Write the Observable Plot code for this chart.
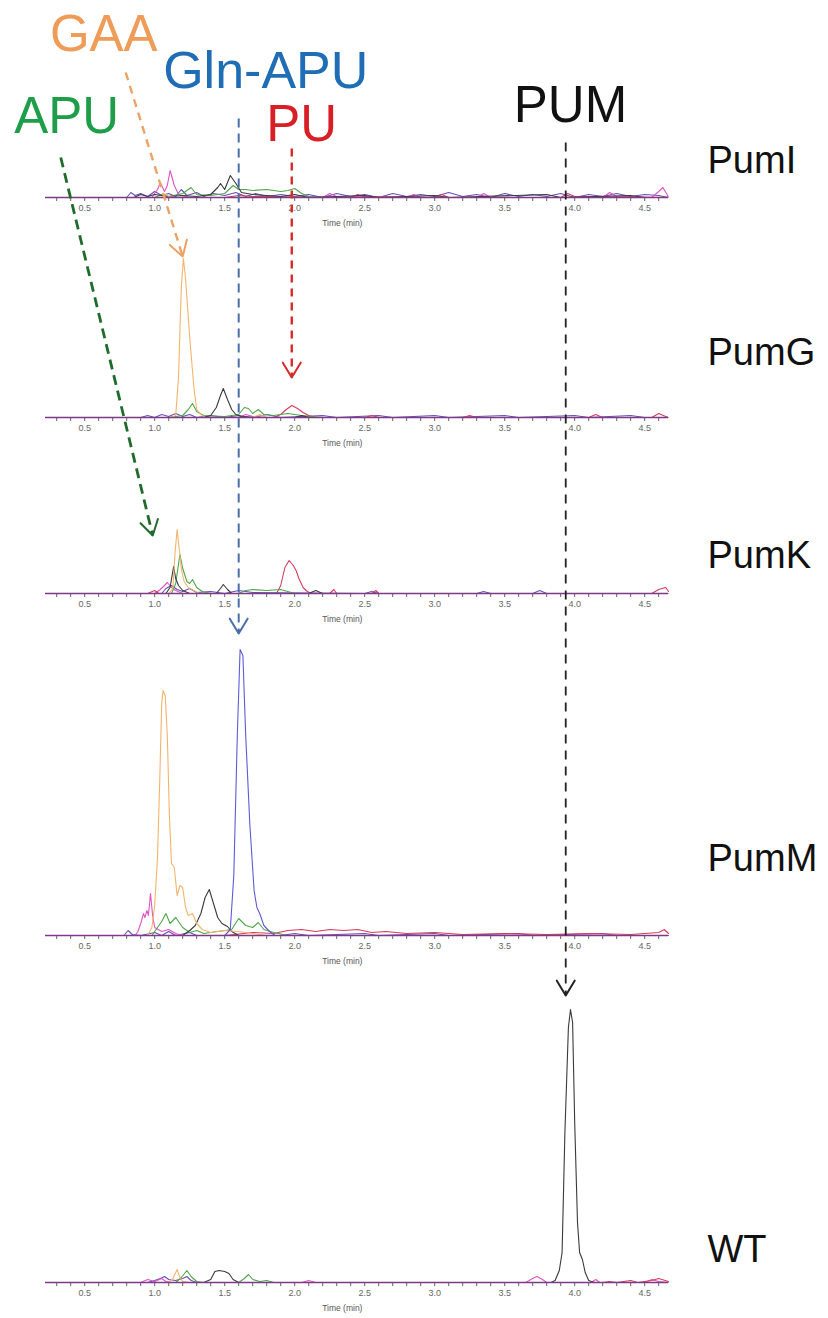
<!DOCTYPE html>
<html><head><meta charset="utf-8">
<script src="https://cdn.jsdelivr.net/npm/d3@7"></script>
<script src="https://cdn.jsdelivr.net/npm/@observablehq/plot@0.6"></script>
<style>
html,body{margin:0;padding:0;background:#fff;}
#fig{position:relative;width:828px;height:1318px;overflow:hidden;background:#fff;}
#fig > svg{position:absolute;left:0;}
</style></head><body><div id="fig"></div>
<script>
// ---------- axis ----------
const timeDomain = [0.22, 4.67];
const minorTicks = d3.range(3, 47).map(i => i / 10);
const labelTicks = [0.5, 1.0, 1.5, 2.0, 2.5, 3.0, 3.5, 4.0, 4.5];
const panelNames = ["PumI", "PumG", "PumK", "PumM", "WT"];

// ---------- traces: [time (min), relative intensity] ----------
// PumI
const pumI_purple = [[0.22,0],[0.8,0],[0.83,5],[0.86,2],[0.9,4],[0.95,1],[1.0,6],[1.05,2],[1.1,4],[1.15,1],[1.19,8],[1.23,2],[1.3,5],[1.35,1],[1.42,4],[1.5,2],[1.58,5],[1.65,1],[1.72,4],[1.8,1],[1.9,3],[2.0,1],[2.1,3],[2.2,0],[2.3,4],[2.4,1],[2.5,3],[2.6,0],[2.7,4],[2.8,1],[2.9,3],[3.0,1],[3.1,5],[3.2,1],[3.3,3],[3.4,0],[3.5,4],[3.6,1],[3.7,3],[3.8,1],[3.9,4],[4.0,0],[4.1,3],[4.2,1],[4.3,4],[4.4,1],[4.5,3],[4.6,2],[4.67,0]];
const pumI_magenta = [[0.22,0],[0.98,0],[1.02,8],[1.04,15],[1.07,6],[1.09,12],[1.11,27],[1.14,12],[1.17,3],[1.25,0],[2.2,0],[2.25,4],[2.3,1],[2.8,0],[2.85,3],[2.9,0],[3.3,0],[3.35,4],[3.4,0],[4.2,0],[4.25,5],[4.3,1],[4.55,0],[4.6,6],[4.63,10],[4.66,3],[4.67,0]];
const pumI_red = [[0.22,0],[1.5,0],[1.6,2],[1.7,1],[2.4,0],[2.45,3],[2.5,1],[3.0,0],[3.05,3],[3.1,0],[3.9,0],[3.95,4],[4.0,1],[4.67,0]];
const pumI_green = [[0.22,0],[1.0,0],[1.05,3],[1.1,1],[1.2,4],[1.26,10],[1.3,3],[1.4,2],[1.5,4],[1.56,12],[1.6,8],[1.65,8],[1.7,7],[1.8,8],[1.9,6],[1.95,7],[2.0,9],[2.05,4],[2.1,1],[2.2,0],[4.67,0]];
const pumI_black = [[0.22,0],[0.85,0],[0.9,3],[0.95,1],[1.0,3],[1.1,1],[1.2,2],[1.3,1],[1.4,3],[1.45,10],[1.47,14],[1.5,8],[1.54,22],[1.58,14],[1.62,5],[1.7,3],[1.8,2],[1.9,1],[2.0,3],[2.1,0],[2.5,2],[2.6,0],[3.0,2],[3.1,0],[3.8,3],[3.9,0],[4.4,2],[4.5,0],[4.67,0]];
const pumI_orange = [[0.22,0],[1.05,0],[1.08,3],[1.1,1],[1.15,0],[4.67,0]];
// PumG
const pumG_purple = [[0.22,0],[0.9,0],[0.95,2],[1.0,0],[1.05,3],[1.1,1],[1.15,4],[1.2,1],[1.25,3],[1.3,0],[1.4,2],[1.5,0],[1.6,2],[1.7,0],[1.8,3],[1.9,0],[2.2,2],[2.3,0],[2.6,2],[2.7,0],[3.0,2],[3.1,0],[3.5,2],[3.6,0],[4.0,2],[4.1,0],[4.4,2],[4.5,0],[4.67,0]];
const pumG_magenta = [[0.22,0],[1.6,0],[1.65,3],[1.7,1],[1.8,0],[4.67,0]];
const pumG_red = [[0.22,0],[1.85,0],[1.9,3],[1.94,8],[1.98,12],[2.02,9],[2.06,5],[2.1,2],[2.15,0],[2.5,0],[2.55,2],[2.6,0],[3.2,0],[3.25,2],[3.3,0],[4.1,0],[4.15,3],[4.2,0],[4.55,0],[4.6,4],[4.65,1],[4.67,0]];
const pumG_green = [[0.22,0],[1.1,0],[1.2,2],[1.24,8],[1.27,14],[1.3,6],[1.35,2],[1.5,1],[1.6,3],[1.64,10],[1.67,9],[1.7,4],[1.74,8],[1.78,3],[1.85,2],[1.95,4],[2.05,2],[2.2,0],[4.67,0]];
const pumG_black = [[0.22,0],[1.35,0],[1.4,2],[1.44,10],[1.47,22],[1.49,29],[1.52,18],[1.55,8],[1.58,3],[1.62,1],[1.7,0],[2.0,0],[2.05,2],[2.1,0],[4.67,0]];
const pumG_orange = [[0.22,0],[1.12,0],[1.15,2],[1.17,40],[1.19,130],[1.205,159],[1.22,140],[1.25,80],[1.28,30],[1.3,8],[1.33,3],[1.36,0],[1.7,0],[1.75,3],[1.8,0],[4.67,0]];
// PumK
const pumK_purple = [[0.22,0],[1.05,0],[1.08,5],[1.12,8],[1.16,4],[1.2,2],[1.25,5],[1.3,1],[1.4,2],[1.5,0],[1.6,3],[1.7,1],[2.5,0],[2.55,2],[2.6,0],[3.3,0],[3.35,2],[3.4,0],[3.7,0],[3.75,3],[3.8,0],[4.67,0]];
const pumK_magenta = [[0.22,0],[1.0,0],[1.04,4],[1.07,8],[1.09,11],[1.12,6],[1.15,3],[1.2,0],[4.67,0]];
const pumK_red = [[0.22,0],[0.95,0],[1.0,3],[1.03,0],[1.87,0],[1.9,8],[1.93,26],[1.96,33],[1.99,28],[2.01,23],[2.03,15],[2.06,6],[2.09,2],[2.12,0],[2.25,0],[2.28,4],[2.3,0],[2.55,0],[2.58,3],[2.6,0],[4.55,0],[4.6,4],[4.65,6],[4.67,2]];
const pumK_green = [[0.22,0],[1.12,0],[1.15,10],[1.18,39],[1.2,25],[1.23,12],[1.25,10],[1.27,14],[1.3,6],[1.34,2],[1.4,0],[1.6,0],[1.65,3],[1.7,4],[1.8,3],[1.9,4],[1.95,2],[2.0,0],[4.67,0]];
const pumK_black = [[0.22,0],[1.08,0],[1.11,6],[1.135,27],[1.15,15],[1.17,8],[1.2,3],[1.25,0],[1.44,0],[1.47,5],[1.49,9],[1.52,4],[1.55,0],[2.1,0],[2.15,3],[2.2,0],[4.67,0]];
const pumK_orange = [[0.22,0],[1.1,0],[1.13,5],[1.145,40],[1.16,64],[1.175,45],[1.19,25],[1.21,12],[1.24,6],[1.28,3],[1.32,0],[4.67,0]];
// PumM
const pumM_purple = [[0.22,0],[0.78,0],[0.81,5],[0.84,1],[0.9,0],[1.0,3],[1.05,0],[1.1,4],[1.15,0],[1.25,3],[1.3,0],[1.9,0],[2.0,2],[2.1,0],[2.5,2],[2.6,0],[3.0,2],[3.1,0],[3.6,2],[3.7,0],[4.2,2],[4.3,0],[4.67,0]];
const pumM_magenta = [[0.22,0],[0.86,0],[0.88,4],[0.9,12],[0.92,22],[0.93,18],[0.945,25],[0.955,20],[0.97,42],[0.985,20],[1.0,8],[1.05,4],[1.1,6],[1.15,2],[1.2,0],[4.67,0]];
const pumM_red = [[0.22,0],[1.5,0],[1.7,3],[1.85,2],[1.95,5],[2.05,6],[2.15,4],[2.25,6],[2.35,5],[2.45,6],[2.55,3],[2.65,4],[2.8,2],[3.0,3],[3.2,1],[3.5,2],[3.8,1],[4.1,2],[4.4,1],[4.6,3],[4.64,6],[4.67,2]];
const pumM_green = [[0.22,0],[0.98,0],[1.02,8],[1.05,14],[1.08,22],[1.11,12],[1.15,18],[1.2,8],[1.25,3],[1.3,5],[1.35,2],[1.45,4],[1.55,6],[1.6,17],[1.65,10],[1.7,8],[1.74,13],[1.78,6],[1.85,3],[1.95,0],[4.67,0]];
const pumM_black = [[0.22,0],[1.2,0],[1.25,5],[1.29,10],[1.33,22],[1.36,38],[1.39,46],[1.42,32],[1.45,18],[1.48,12],[1.52,9],[1.55,4],[1.6,0],[4.67,0]];
const pumM_orange = [[0.22,0],[0.95,0],[0.98,8],[1.0,30],[1.02,78],[1.035,150],[1.05,232],[1.06,245],[1.075,240],[1.09,200],[1.105,120],[1.12,72],[1.14,68],[1.16,40],[1.18,50],[1.2,48],[1.22,28],[1.24,20],[1.27,22],[1.3,12],[1.34,6],[1.4,3],[1.5,5],[1.6,4],[1.7,2],[1.8,0],[4.67,0]];
const pumM_blue = [[0.22,0],[1.5,0],[1.54,6],[1.565,60],[1.59,200],[1.61,286],[1.63,280],[1.65,200],[1.68,110],[1.71,45],[1.73,28],[1.75,22],[1.78,10],[1.82,4],[1.86,0],[4.67,0]];
// WT
const wt_purple = [[0.22,0],[0.95,0],[1.0,2],[1.04,4],[1.07,6],[1.1,3],[1.15,2],[1.2,4],[1.23,6],[1.26,2],[1.3,0],[4.67,0]];
const wt_magenta = [[0.22,0],[0.9,0],[0.95,3],[1.0,1],[1.05,4],[1.08,1],[1.12,0],[2.05,0],[2.1,2],[2.15,0],[3.65,0],[3.7,4],[3.73,6],[3.77,3],[3.8,0],[4.12,0],[4.15,3],[4.18,0],[4.5,0],[4.55,3],[4.6,1],[4.67,0]];
const wt_red = [[0.22,0],[4.2,0],[4.25,1],[4.3,0],[4.4,2],[4.45,0],[4.55,2],[4.6,4],[4.67,1]];
const wt_green = [[0.22,0],[1.15,0],[1.19,5],[1.23,12],[1.26,6],[1.3,1],[1.35,0],[1.6,0],[1.64,4],[1.67,8],[1.7,3],[1.75,1],[1.8,2],[1.85,0],[4.67,0]];
const wt_black = [[0.22,0],[1.35,0],[1.4,3],[1.43,11],[1.46,12],[1.5,11],[1.53,9],[1.56,3],[1.6,0],[3.83,0],[3.86,2],[3.89,12],[3.91,30],[3.93,150],[3.955,255],[3.97,273],[3.985,260],[4.0,160],[4.02,60],[4.035,30],[4.055,23],[4.075,10],[4.1,2],[4.14,0],[4.67,0]];
const wt_orange = [[0.22,0],[1.1,0],[1.13,4],[1.16,13],[1.18,5],[1.2,1],[1.25,0],[4.67,0]];

// ---------- annotations (compound labels and retention-time arrows) ----------
const compoundLabels = ["GAA", "Gln-APU", "APU", "PU", "PUM"];
const compoundTimes  = [0.636, 1.793, 0.371, 2.05, 3.97];

// ---------- styling / layout ----------
const colors = {purple:"#6a4fb6", magenta:"#e054c6", red:"#d63c5c", green:"#4fa64a", black:"#3a3a3a", orange:"#f4b46c", blue:"#5c5cd6"};
const drawOrder = ["purple","magenta","red","green","black","orange","blue"];
const FONT = "Liberation Sans, Arial, Helvetica, sans-serif";
const plotLeft = 45, plotRight = 668, W = 828, H = 1318;

const panelTraces = [
  {purple:pumI_purple, magenta:pumI_magenta, red:pumI_red, green:pumI_green, black:pumI_black, orange:pumI_orange},
  {purple:pumG_purple, magenta:pumG_magenta, red:pumG_red, green:pumG_green, black:pumG_black, orange:pumG_orange},
  {purple:pumK_purple, magenta:pumK_magenta, red:pumK_red, green:pumK_green, black:pumK_black, orange:pumK_orange},
  {purple:pumM_purple, magenta:pumM_magenta, red:pumM_red, green:pumM_green, black:pumM_black, orange:pumM_orange, blue:pumM_blue},
  {purple:wt_purple, magenta:wt_magenta, red:wt_red, green:wt_green, black:wt_black, orange:wt_orange}
];
const panelLayout = [
  {base:197, yMax:40,  labelY:37},
  {base:417, yMax:170, labelY:65},
  {base:593, yMax:80,  labelY:38},
  {base:935, yMax:295, labelY:77},
  {base:1282, yMax:285, labelY:33}
];
const labelLayout = [
  {y:34,  color:"#ee9c58", size:51},
  {y:71,  color:"#1f6db5", size:52},
  {y:116, color:"#1f9e4a", size:51},
  {y:124, color:"#d81f26", size:51},
  {y:105, color:"#111111", size:51}
];
// arrows: start/tip in time (x) and figure pixel row (y)
const arrowLayout = [
  {t1:0.793, y1:72,  t2:1.20,  y2:256, color:"#eba264", w:2.4, dash:"8,6"},
  {t1:1.60,  y1:118, t2:1.60,  y2:633, color:"#4a6fa8", w:2.0, dash:"9,6"},
  {t1:0.329, y1:157, t2:0.986, y2:535, color:"#1e6b2c", w:2.8, dash:"10,6"},
  {t1:1.979, y1:148, t2:1.979, y2:377, color:"#d62a2a", w:2.4, dash:"8,6"},
  {t1:3.936, y1:142, t2:3.936, y2:995, color:"#222222", w:1.8, dash:"9,7"}
];

const fig = document.getElementById("fig");
const tickFormat = d => (Math.round(d * 10) % 5 === 0) ? d.toFixed(1) : "";

panelNames.forEach((name, i) => {
  const L = panelLayout[i], T = panelTraces[i];
  const marks = drawOrder.filter(k => T[k]).map(k =>
    Plot.line(T[k], {x: d => d[0], y: d => d[1], stroke: colors[k], strokeWidth: 1.1}));
  marks.push(Plot.ruleY([0], {stroke: "#7d3a86", strokeWidth: 1.6}));
  marks.push(Plot.text([{t: 2.34, s: "Time (min)"}], {x: "t", text: "s", frameAnchor: "bottom", dy: 28, fontSize: 8.5, fill: "#555"}));
  marks.push(Plot.text([{s: name, v: L.labelY}], {y: "v", text: "s", frameAnchor: "right", dx: 39, textAnchor: "start", fontSize: 38, fill: "#111"}));
  const svg = Plot.plot({
    width: W, height: L.yMax + 36,
    marginLeft: plotLeft, marginRight: W - plotRight, marginTop: 0, marginBottom: 36,
    x: {domain: timeDomain, ticks: minorTicks, tickFormat, tickSize: 4, tickPadding: 3, label: null, line: true},
    y: {domain: [0, L.yMax], axis: null},
    style: {fontFamily: FONT, fontSize: "9px", color: "#666", background: "transparent", overflow: "visible"},
    marks
  });
  svg.style.top = (L.base - L.yMax) + "px";
  fig.appendChild(svg);
});

// overlay with labels and arrows, sharing the time scale
const X = Plot.scale({x: {domain: timeDomain, range: [plotLeft, plotRight]}});
const overlayMarks = [];
arrowLayout.forEach(a => {
  overlayMarks.push(Plot.link([a], {x1: "t1", y1: "y1", x2: "t2", y2: "y2", stroke: a.color, strokeWidth: a.w, strokeDasharray: a.dash}));
  const sx = X.apply(a.t1), tx = X.apply(a.t2);
  const dx = tx - sx, dy = a.y2 - a.y1, len = Math.hypot(dx, dy);
  const back = 60;
  const head = {t1: X.invert(tx - dx / len * back), y1: a.y2 - dy / len * back, t2: a.t2, y2: a.y2};
  overlayMarks.push(Plot.arrow([head], {x1: "t1", y1: "y1", x2: "t2", y2: "y2", stroke: a.color, strokeWidth: 2, headLength: 13, headAngle: 62, insetStart: back - 3}));
});
compoundLabels.forEach((s, i) => {
  overlayMarks.push(Plot.text([{s, t: compoundTimes[i], y: labelLayout[i].y}], {x: "t", y: "y", text: "s", fill: labelLayout[i].color, fontSize: labelLayout[i].size, textAnchor: "middle"}));
});
const overlay = Plot.plot({
  width: W, height: H, margin: 0,
  x: {domain: timeDomain, range: [plotLeft, plotRight], axis: null},
  y: {domain: [0, H], range: [0, H], axis: null},
  style: {fontFamily: FONT, background: "transparent", overflow: "visible"},
  marks: overlayMarks
});
overlay.style.top = "0px";
fig.appendChild(overlay);
</script></body></html>
